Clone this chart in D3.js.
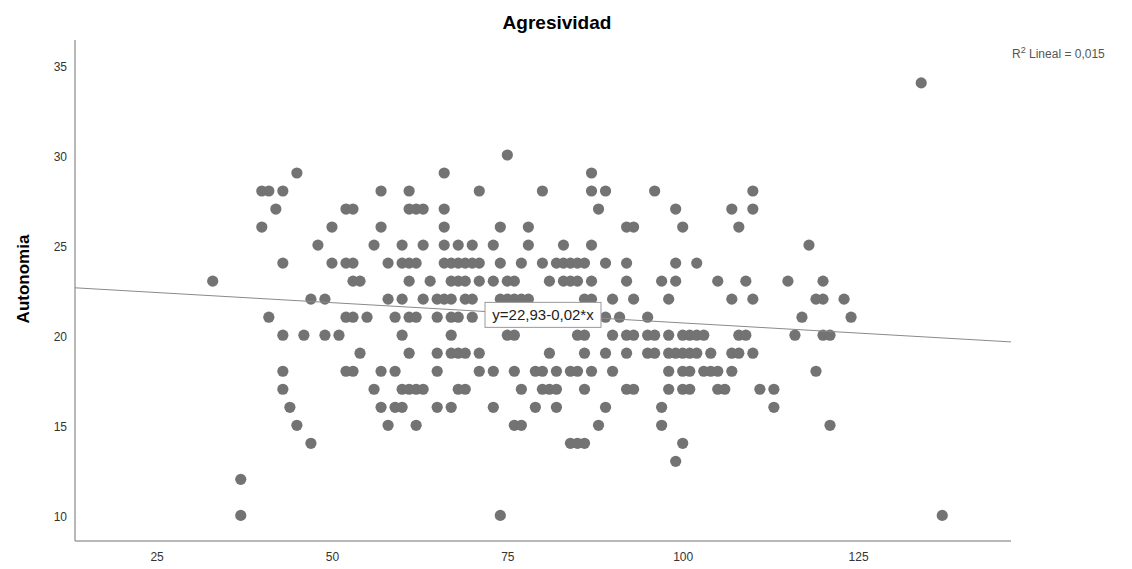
<!DOCTYPE html>
<html>
<meta charset="utf-8" />
<head>
<title>Agresividad</title>
<style>
body { margin: 0; background: #fff; }
svg { display: block; }
svg text { font-family: "Liberation Sans", Arial, sans-serif; }
.axis path { stroke: #a0a0a0; stroke-width: 1.5px; }
.axis text { font-size: 12px; fill: #333; }
</style>
<script src="https://cdn.jsdelivr.net/npm/d3@7/dist/d3.min.js"></script>
</head>
<body>
<svg class="chart"></svg>

<script>
var chartWidth = 1132;
var chartHeight = 569;

/********
 * Data *
 ********/

// Autonomia value -> list of Agresividad values
var autonomiaRows = [34, 30, 29, 28, 27, 26, 25, 24, 23, 22, 21, 20, 19, 18, 17, 16, 15, 14, 13, 12, 10];
var agresividadRows = [
  [134],
  [75],
  [45, 66, 87],
  [40, 41, 43, 57, 61, 71, 80, 87, 89, 96, 110],
  [42, 52, 53, 61, 62, 63, 66, 88, 99, 107, 110],
  [40, 50, 57, 66, 74, 78, 92, 93, 100, 108],
  [48, 56, 60, 63, 66, 68, 70, 73, 78, 83, 87, 118],
  [43, 50, 52, 53, 58, 60, 61, 62, 66, 67, 68, 69, 70, 71, 74, 77, 80, 82, 83, 84, 85, 86, 89, 92, 99, 102],
  [33, 53, 54, 61, 64, 67, 68, 69, 71, 73, 75, 76, 81, 83, 84, 85, 87, 92, 97, 99, 105, 109, 115, 120],
  [47, 49, 58, 60, 63, 65, 66, 67, 69, 70, 74, 75, 76, 77, 78, 86, 87, 90, 93, 98, 107, 110, 119, 120, 123],
  [41, 52, 53, 55, 59, 61, 62, 65, 67, 68, 70, 89, 91, 95, 117, 124],
  [43, 46, 49, 51, 60, 67, 75, 76, 85, 86, 90, 92, 93, 95, 96, 98, 100, 101, 102, 103, 108, 109, 116, 120, 121],
  [54, 61, 65, 67, 68, 69, 71, 81, 86, 89, 92, 95, 96, 98, 99, 100, 101, 102, 104, 107, 108, 110],
  [43, 52, 53, 57, 59, 65, 71, 73, 76, 79, 80, 82, 84, 85, 87, 90, 98, 100, 101, 103, 104, 105, 107, 119],
  [43, 56, 60, 61, 62, 63, 68, 69, 77, 80, 81, 82, 86, 92, 93, 98, 100, 101, 105, 106, 111, 113],
  [44, 57, 59, 60, 65, 67, 73, 79, 82, 89, 97, 113],
  [45, 58, 62, 76, 77, 88, 97, 121],
  [47, 84, 85, 86, 100],
  [99],
  [37],
  [37, 74, 137]
];

var xTicks = [25, 50, 75, 100, 125];
var yTicks = [10, 15, 20, 25, 30, 35];

// fit line shown in the chart
var fitIntercept = 22.93;
var fitSlope = -0.0225;
var fitLabel = "y=22,93-0,02*x";
var r2Label = "Lineal = 0,015";

var points = [];
autonomiaRows.forEach(function(yv, i) {
  agresividadRows[i].forEach(function(xv) { points.push({x: xv, y: yv}); });
});

/**********
 * Scales *
 **********/

var plotLeft = 75, plotRight = 1011, plotTop = 40, plotBottom = 541;

var x = d3.scaleLinear().domain([13.37, 146.8]).range([plotLeft, plotRight]);
var y = d3.scaleLinear().domain([8.58, 36.38]).range([plotBottom, plotTop]);

var svg = d3.select(".chart")
    .attr("width", chartWidth)
    .attr("height", chartHeight);

// title
svg.append("text")
    .attr("x", 557)
    .attr("y", 29)
    .attr("text-anchor", "middle")
    .style("font-size", "19px")
    .style("font-weight", "bold")
    .style("fill", "#000")
    .text("Agresividad");

// y label
svg.append("text")
    .attr("transform", "translate(29,279) rotate(-90)")
    .attr("text-anchor", "middle")
    .style("font-size", "17px")
    .style("font-weight", "bold")
    .style("fill", "#000")
    .text("Autonomia");

/********
 * Axes *
 ********/

var xAxis = d3.axisBottom(x).tickValues(xTicks).tickSize(0).tickPadding(11);
var yAxis = d3.axisLeft(y).tickValues(yTicks).tickSize(0).tickPadding(8);

var gx = svg.append("g")
    .attr("class", "axis")
    .attr("transform", "translate(0," + plotBottom + ")")
    .call(xAxis);
gx.select(".domain").attr("d", "M" + plotLeft + ",0H" + plotRight);

var gy = svg.append("g")
    .attr("class", "axis")
    .attr("transform", "translate(" + plotLeft + ",0)")
    .call(yAxis);
gy.select(".domain").attr("d", "M0," + plotTop + "V" + plotBottom);
gy.selectAll("text").attr("dy", "0.45em");

/**********
 * Points *
 **********/

svg.append("g").selectAll("circle")
    .data(points)
  .enter().append("circle")
    .attr("cx", function(d) { return x(d.x); })
    .attr("cy", function(d) { return y(d.y); })
    .attr("r", 5.6)
    .attr("fill", "#737373");

// fit line
var xd = x.domain();
svg.append("line")
    .attr("x1", x(xd[0])).attr("y1", y(fitIntercept + fitSlope * xd[0]))
    .attr("x2", x(xd[1])).attr("y2", y(fitIntercept + fitSlope * xd[1]))
    .attr("stroke", "#8a8a8a")
    .attr("stroke-width", 1);

// fit label box at middle of line
var xm = (xd[0] + xd[1]) / 2;
var lbl = svg.append("g")
    .attr("transform", "translate(" + x(xm) + "," + y(fitIntercept + fitSlope * xm) + ")");
lbl.append("rect")
    .attr("x", -58).attr("y", -12.5)
    .attr("width", 116).attr("height", 25)
    .attr("fill", "#fff")
    .attr("stroke", "#999")
    .attr("stroke-width", 1);
lbl.append("text")
    .attr("text-anchor", "middle")
    .attr("y", 5)
    .style("font-size", "15px")
    .style("fill", "#222")
    .text(fitLabel);

// R2 legend
var leg = svg.append("text")
    .attr("x", 1012)
    .attr("y", 58)
    .style("font-size", "12px")
    .style("fill", "#555");
leg.append("tspan").text("R");
leg.append("tspan").attr("dy", -5).style("font-size", "9px").text("2");
leg.append("tspan").attr("dy", 5).text(" " + r2Label);
</script>
</body>
</html>
